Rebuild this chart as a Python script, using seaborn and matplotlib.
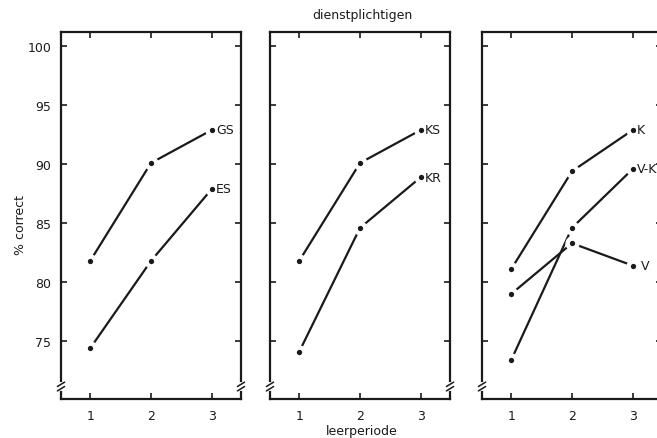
import matplotlib
matplotlib.use("Agg")
import matplotlib.pyplot as plt
import seaborn as sns
import pandas as pd

# ---- data ----
periods = [1, 2, 3]
gs = [81.8, 90.1, 92.9]
es = [74.4, 81.8, 87.9]
ks = [81.8, 90.1, 92.9]
kr = [74.1, 84.6, 88.9]
k_vals = [81.1, 89.4, 92.9]
vk = [73.4, 84.6, 89.6]
v_vals = [79.0, 83.3, 81.4]
y_ticks = [75, 80, 85, 90, 95, 100]
x_ticks = [1, 2, 3]

panels = [
    [("GS", gs), ("ES", es)],
    [("KS", ks), ("KR", kr)],
    [("K", k_vals), ("V-K", vk), ("V", v_vals)],
]

sns.set_theme(style="ticks")
plt.rcParams["font.family"] = ["DejaVu Sans"]

fig = plt.figure(figsize=(6.57, 4.39), dpi=100)
lefts = [61 / 657, 270 / 657, 482 / 657]
bottom = 1 - 400 / 439
height = (400 - 33) / 439
width = 180 / 657
ink = "#1a1a1a"

for i, (left, series) in enumerate(zip(lefts, panels)):
    ax = fig.add_axes([left, bottom, width, height])
    for name, vals in series:
        df = pd.DataFrame({"period": periods, "value": vals})
        sns.lineplot(data=df, x="period", y="value", ax=ax, color=ink,
                     linewidth=1.6, legend=False)
    for name, vals in series:
        df = pd.DataFrame({"period": periods, "value": vals})
        sns.scatterplot(data=df, x="period", y="value", ax=ax, color=ink,
                        s=50, edgecolor="white", linewidth=3.2, zorder=5,
                        legend=False)
        off = 6 if name == "V" else 3
        ax.annotate(name, xy=(periods[-1], vals[-1]), xytext=(off, 0),
                    textcoords="offset points", va="center", ha="left",
                    fontsize=9, color=ink, zorder=6)
    ax.set_xlim(0.52, 3.48)
    ax.set_ylim(70.1, 101.2)
    ax.set_xticks(x_ticks)
    ax.set_yticks(y_ticks)
    ax.set_xlabel("")
    ax.set_ylabel("")
    ax.tick_params(direction="in", length=4, width=1.2, top=True, right=True,
                   labelsize=9, colors=ink, pad=7)
    if i > 0:
        ax.set_yticklabels([])
    for sp in ax.spines.values():
        sp.set_linewidth(1.6)
        sp.set_color(ink)
    # axis break marks
    for xa in (0.0, 1.0):
        ax.plot([xa, xa], [0.028, 0.040], transform=ax.transAxes, color="white",
                linewidth=3, clip_on=False, zorder=7)
        for yb in (0.028, 0.040):
            ax.plot([xa - 0.02, xa + 0.02], [yb - 0.006, yb + 0.006],
                    transform=ax.transAxes, color=ink, linewidth=1.1,
                    clip_on=False, zorder=8)

fig.text(20 / 657, 1 - 225 / 439, "% correct", rotation=90, ha="center",
         va="center", fontsize=9, color=ink)
fig.text(362 / 657, 1 - 16 / 439, "dienstplichtigen", ha="center",
         va="center", fontsize=9, color=ink)
fig.text(362 / 657, 1 - 432 / 439, "leerperiode", ha="center",
         va="center", fontsize=9, color=ink)

fig.savefig("out.png", dpi=100)
